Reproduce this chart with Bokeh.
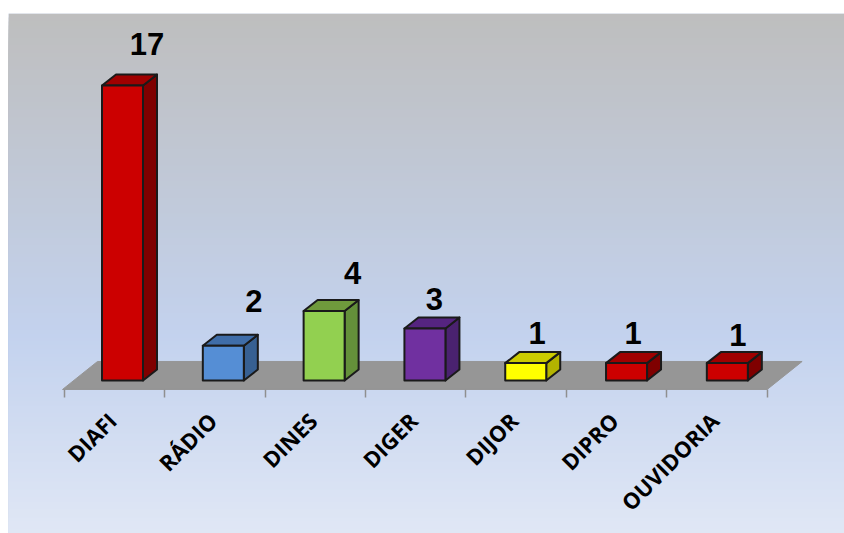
import math
from bokeh.plotting import figure
from bokeh.models import FixedTicker
from bokeh.core.properties import value as V
from bokeh.embed import file_html
from bokeh.resources import INLINE

# ---- data ----
categories = ["DIAFI", "RÁDIO", "DINES", "DIGER", "DIJOR", "DIPRO", "OUVIDORIA"]
values = [17, 2, 4, 3, 1, 1, 1]
front_colors = ["#CC0000", "#558ED5", "#92D050", "#7030A0", "#FFFF00", "#CC0000", "#CC0000"]
top_colors = ["#A00000", "#3F6DA8", "#6F9A3C", "#552480", "#CCCC00", "#A00000", "#A00000"]
side_colors = ["#7F0000", "#376092", "#64903A", "#4A2270", "#B3B300", "#7F0000", "#7F0000"]

# ---- layout: one x unit = 100.4px, one y unit = 17.35px ----
PX = 100.4
PY = 17.35
W, H = 836, 520
X_LEFT = -1.056
Y_BOTTOM = -8.82
x_range = (X_LEFT, X_LEFT + W / PX)
y_range = (Y_BOTTOM, Y_BOTTOM + H / PY)

BAR_W = 41 / PX
BAR_OFF = 8 / PX
BAR_STEP = 1.004
DX = 14 / PX
DY = 11 / PY
FLOOR_Y = -9 / PY
FLOOR_DX = 35 / PX
FLOOR_DY = 28 / PY
FLOOR_L = -0.518
FLOOR_R = 6.5
LABEL_SHIFT = 2.5 / PX

# value label offsets from the bar's front-top centre (px)
label_dx = [24, 30, 28, 9, 11, 6, 10]
label_dy = [42, 45, 38, 29, 30, 30, 28]

p = figure(width=W + 8, height=H + 13, x_range=x_range, y_range=y_range,
           output_backend="svg", toolbar_location=None,
           min_border_left=8, min_border_right=0, min_border_top=13, min_border_bottom=0)
p.outline_line_color = None
p.grid.visible = False
p.yaxis.visible = False
p.background_fill_color = "#DEE6F5"
p.border_fill_color = "white"

# background gradient
stops = [(0.0, (190, 190, 190)), (0.62, (195, 210, 238)), (1.0, (224, 231, 245))]
def col(t):
    for (a, ca), (b, cb) in zip(stops, stops[1:]):
        if t <= b:
            f = (t - a) / (b - a)
            return "#%02x%02x%02x" % tuple(round(u + (v - u) * f) for u, v in zip(ca, cb))
    return "#e0e7f5"
n = 130
hs = (y_range[1] - y_range[0]) / n
tops = [y_range[1] - i * hs for i in range(n)]
p.quad(left=x_range[0], right=x_range[1], top=tops, bottom=y_range[0],
       color=[col((i + 0.5) / n) for i in range(n)], line_color=None)

# floor
p.patch([FLOOR_L, FLOOR_R, FLOOR_R + FLOOR_DX, FLOOR_L + FLOOR_DX],
        [FLOOR_Y, FLOOR_Y, FLOOR_Y + FLOOR_DY, FLOOR_Y + FLOOR_DY],
        fill_color="#969696", line_color="#969696", line_width=1)

# 3D bars
lc = "#1a1a1a"
for i, v in enumerate(values):
    l = i * BAR_STEP + BAR_OFF - BAR_W / 2
    r = l + BAR_W
    p.patch([r, r + DX, r + DX, r], [0, DY, v + DY, v], fill_color=side_colors[i],
            line_color=lc, line_width=2, line_join="round")
    p.patch([l, r, r + DX, l + DX], [v, v, v + DY, v + DY], fill_color=top_colors[i],
            line_color=lc, line_width=2, line_join="round")
    p.patch([l, r, r, l], [0, 0, v, v], fill_color=front_colors[i],
            line_color=lc, line_width=2, line_join="round")

# value labels
lx = [i * BAR_STEP + 8.5 / PX + label_dx[i] / PX for i in range(len(values))]
ly = [values[i] + label_dy[i] / PY for i in range(len(values))]
p.text(lx, ly, text=[str(v) for v in values], text_font=V("Liberation Sans"),
       text_font_style="bold", text_font_size="31px", text_color="black",
       text_align="center", text_baseline="alphabetic")

# axis on the floor's front edge
centres = [i - LABEL_SHIFT for i in range(len(categories))]
axis = p.xaxis[0]
axis.fixed_location = FLOOR_Y
axis.ticker = FixedTicker(ticks=centres, minor_ticks=[i - 0.5 for i in range(len(categories) + 1)])
axis.major_label_overrides = dict(zip(centres, categories))
axis.major_label_orientation = math.pi / 4
axis.major_label_text_font = "Open Sans"
axis.major_label_text_font_style = "bold"
axis.major_label_text_font_size = "22px"
axis.major_label_text_color = "black"
axis.major_label_standoff = 19
axis.axis_line_color = None
axis.major_tick_line_color = None
axis.major_tick_in = 0
axis.major_tick_out = 0
axis.minor_tick_line_color = "#8f8f8f"
axis.minor_tick_line_width = 1.5
axis.minor_tick_in = 0
axis.minor_tick_out = 8

open("out.html", "w").write(file_html(p, INLINE))
